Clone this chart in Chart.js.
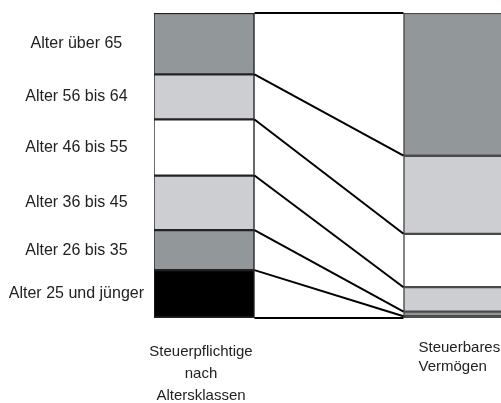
<!DOCTYPE html>
<html><head><meta charset="utf-8">
<script src="https://cdn.jsdelivr.net/npm/chart.js@4"></script>
<style>html,body{margin:0;padding:0;overflow:hidden;background:#fff}</style>
</head><body>
<canvas id="c" width="505" height="403"></canvas>
<script>
// Age groups, bottom to top
const ageGroups = ['Alter 25 und jünger', 'Alter 26 bis 35', 'Alter 36 bis 45', 'Alter 46 bis 55', 'Alter 56 bis 64', 'Alter über 65'];
// Share of taxpayers (%) per age group
const taxpayersShare = [15.7, 13.1, 17.9, 18.4, 14.8, 20.1];
// Share of taxable wealth (%) per age group
const wealthShare = [0.6, 1.5, 8.0, 17.5, 25.6, 46.8];
// Bar captions
const barLabels = [['Steuerpflichtige', 'nach', 'Altersklassen'], ['Steuerbares', 'Vermögen']];

const groupColors = ['#000000', '#929799', '#cdced2', '#ffffff', '#cdced2', '#929799'];
const FONT = '"Liberation Sans", Arial, sans-serif';

const mids = [];
{ let c = 0; taxpayersShare.forEach(v => { mids.push(c + v / 2); c += v; }); }

const connectors = {
  id: 'connectors',
  afterDatasetsDraw(chart) {
    const ys = chart.scales.y, ctx = chart.ctx;
    const bars = chart.getDatasetMeta(0).data;
    const lb = bars[0], rb = bars[1];
    const x1 = lb.x + lb.width / 2, x2 = rb.x - rb.width / 2;
    let cl = 0, cr = 0;
    ctx.save();
    ctx.strokeStyle = '#000';
    ctx.lineWidth = 2;
    for (let k = 0; k <= ageGroups.length; k++) {
      ctx.beginPath();
      ctx.moveTo(x1, ys.getPixelForValue(cl));
      ctx.lineTo(x2, ys.getPixelForValue(cr));
      ctx.stroke();
      if (k < ageGroups.length) { cl += taxpayersShare[k]; cr += wealthShare[k]; }
    }
    ctx.restore();
  }
};

const captions = {
  id: 'captions',
  afterDraw(chart) {
    const ctx = chart.ctx, xs = chart.scales.x, bottom = chart.chartArea.bottom;
    const bars = chart.getDatasetMeta(0).data;
    ctx.save();
    ctx.font = '15px ' + FONT;
    ctx.fillStyle = '#222';
    ctx.textBaseline = 'alphabetic';
    ctx.textAlign = 'center';
    const cx0 = xs.getPixelForValue(0) - 3;
    barLabels[0].forEach((t, j) => ctx.fillText(t, cx0, bottom + 38 + j * 22));
    ctx.textAlign = 'left';
    const rx = bars[1].x - bars[1].width / 2 + 15;
    barLabels[1].forEach((t, j) => ctx.fillText(t, rx, bottom + 34 + j * 18.5));
    ctx.restore();
  }
};

new Chart(document.getElementById('c'), {
  type: 'bar',
  data: {
    datasets: ageGroups.map((g, i) => ({
      label: g,
      data: [{ x: 0, y: taxpayersShare[i] }, { x: 1, y: wealthShare[i] }],
      backgroundColor: groupColors[i],
      borderColor: ['#222222', '#4a4a4a'],
      borderWidth: 1.5,
      borderSkipped: false,
      barThickness: 101
    }))
  },
  options: {
    responsive: false,
    animation: false,
    devicePixelRatio: 1,
    layout: { padding: { top: 13, bottom: 85, left: 0, right: 0 } },
    plugins: { legend: { display: false }, tooltip: { enabled: false } },
    scales: {
      x: {
        type: 'linear', stacked: true, display: false, min: -0.2, max: 1.204,
        offset: false, grid: { offset: false },
        afterBuildTicks(s) { s.ticks = [{ value: 0 }, { value: 1 }]; }
      },
      y: {
        stacked: true, min: 0, max: 100, position: 'left',
        grid: { display: false, drawTicks: false },
        border: { display: false },
        afterFit(s) { s.width = 154; s.paddingTop = 0; s.paddingBottom = 0; },
        afterBuildTicks(s) { s.ticks = mids.map(v => ({ value: v })); },
        ticks: {
          autoSkip: false,
          crossAlign: 'center',
          padding: 10,
          color: '#222',
          font: { family: FONT, size: 16 },
          callback: (v, i) => ageGroups[i]
        }
      }
    }
  },
  plugins: [connectors, captions]
});
</script>
</body></html>
